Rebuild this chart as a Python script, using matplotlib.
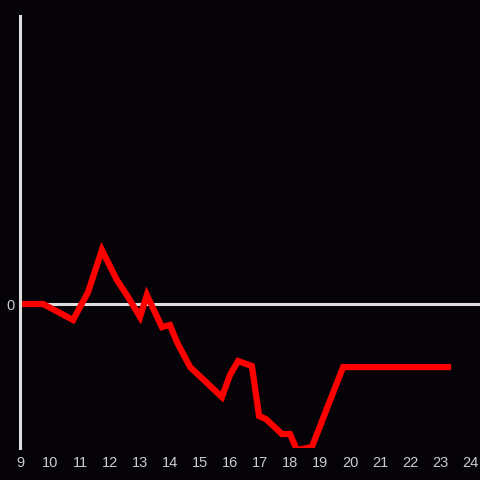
import numpy as np
import matplotlib.pyplot as plt

# values (x in hours, y in arbitrary units)
x = np.array([9.0, 9.77, 10.77, 11.27, 11.73, 12.23, 12.6, 13.0, 13.23, 13.73,
              14.0, 14.23, 14.67, 15.73, 16.0, 16.27, 16.73, 16.97, 17.2, 17.73,
              18.0, 18.23, 18.73, 19.77, 23.37])
y = np.array([0.0, 0.0, -0.111, 0.083, 0.375, 0.167, 0.049, -0.09, 0.062, -0.16,
              -0.146, -0.264, -0.438, -0.646, -0.493, -0.396, -0.431, -0.778, -0.799, -0.903,
              -0.903, -1.014, -0.993, -0.438, -0.438])
xticks = list(range(9, 25))

bg = '#050307'
fg = '#dddddd'

plt.rcParams['font.family'] = ['Liberation Sans', 'DejaVu Sans']

fig = plt.figure(figsize=(4.8, 4.8), dpi=100, facecolor=bg)
ax = fig.add_axes([20/480, 32/480, 460/480, 432/480], facecolor=bg)

ax.axhline(0, color=fg, lw=2.2, zorder=1)
ax.plot(x, y, color='#ff0000', lw=4.5, solid_joinstyle='miter',
        solid_capstyle='butt', zorder=2)

ax.set_xlim(9, 9 + 460/30)
ax.set_ylim(-1, 2)
ax.set_xticks(xticks)
ax.set_xticklabels([str(t) for t in xticks])
ax.set_yticks([0])
ax.set_yticklabels(['0'])
ax.tick_params(length=0, colors='#cccccc', labelsize=10.5)
ax.tick_params(axis='x', pad=6)
ax.tick_params(axis='y', pad=4)

for s in ['top', 'right', 'bottom']:
    ax.spines[s].set_visible(False)
ax.spines['left'].set_color(fg)
ax.spines['left'].set_linewidth(2.2)

fig.savefig('out.png', dpi=100, facecolor=bg)
